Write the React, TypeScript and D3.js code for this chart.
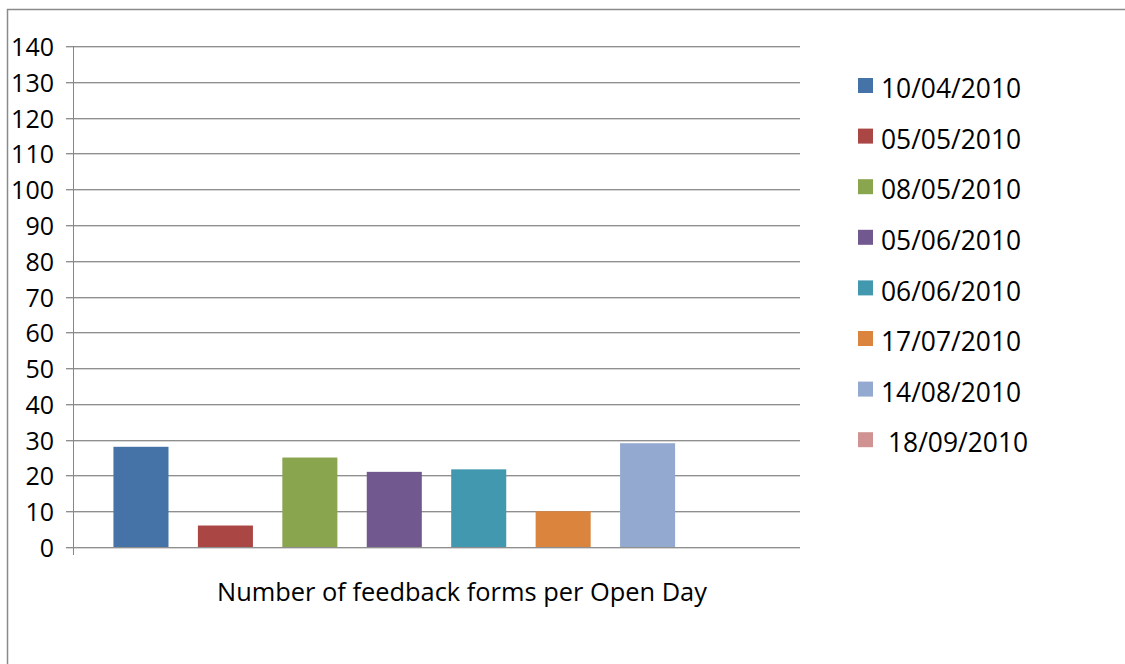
import React from "react";
import * as d3 from "d3";

const seriesNames = ["10/04/2010", "05/05/2010", "08/05/2010", "05/06/2010", "06/06/2010", "17/07/2010", "14/08/2010", "18/09/2010"];
const seriesValues = [28, 6, 25, 21, 21.7, 10, 29, 0];
const seriesColors = ["#4572A7", "#AA4643", "#89A54E", "#71588F", "#4198AF", "#DB843D", "#93A9CF", "#D19392"];
const yTicks = [0, 10, 20, 30, 40, 50, 60, 70, 80, 90, 100, 110, 120, 130, 140];
const categoryLabel = "Number of feedback forms per Open Day";

const W = 1125, H = 664;
const plot = { left: 73, right: 800, top: 46, bottom: 547 };
const FONT = "'Open Sans', 'DejaVu Sans', sans-serif";

export default function App() {
  const y = d3.scaleLinear().domain([0, 140]).range([plot.bottom, plot.top]);
  const x = d3.scaleBand<string>().domain(seriesNames).range([plot.left, plot.right]).paddingInner(0.348).paddingOuter(0.479);

  return (
    <svg width={W} height={H} style={{ position: "absolute", left: 0, top: 0, background: "#fff" }}>
      <rect x={0} y={0} width={W} height={H} fill="#fff" />
      {/* frame */}
      <path d={`M7.5,${H + 5} V9.5 H${W + 5}`} fill="none" stroke="#8a8a8a" strokeWidth={1.5} />
      {/* gridlines */}
      {yTicks.map((t) => {
        const yy = Math.round(y(t));
        return (
          <g key={t}>
            <line x1={66} x2={plot.right} y1={yy + 1.5} y2={yy + 1.5} stroke="#d6d6d6" strokeWidth={1} />
            <line x1={66} x2={plot.right} y1={yy + 0.5} y2={yy + 0.5} stroke="#8f8f8f" strokeWidth={1} />
            <text x={54} y={yy} dy="0.38em" textAnchor="end" fontFamily={FONT} fontSize={25} fill="#000">{t}</text>
          </g>
        );
      })}
      {/* y axis */}
      <line x1={plot.left + 0.5} x2={plot.left + 0.5} y1={plot.top} y2={plot.bottom + 8} stroke="#868686" strokeWidth={1} />
      {/* bars */}
      {seriesNames.map((s, i) => (
        seriesValues[i] > 0 ? (
          <rect key={s} x={x(s)} y={y(seriesValues[i])} width={x.bandwidth()} height={plot.bottom - y(seriesValues[i])} fill={seriesColors[i]} />
        ) : null
      ))}
      {/* category label */}
      <text x={462} y={601} textAnchor="middle" fontFamily={FONT} fontSize={25.4} fill="#000">{categoryLabel}</text>
      {/* legend */}
      {seriesNames.map((s, i) => {
        const ly = 78 + i * 50.6;
        return (
          <g key={s}>
            <rect x={858} y={ly} width={15} height={15} fill={seriesColors[i]} />
            <text x={i === 7 ? 888 : 881} y={ly + 7.5} dy="0.48em" fontFamily={FONT} fontSize={26.4} fill="#000">{s}</text>
          </g>
        );
      })}
    </svg>
  );
}
